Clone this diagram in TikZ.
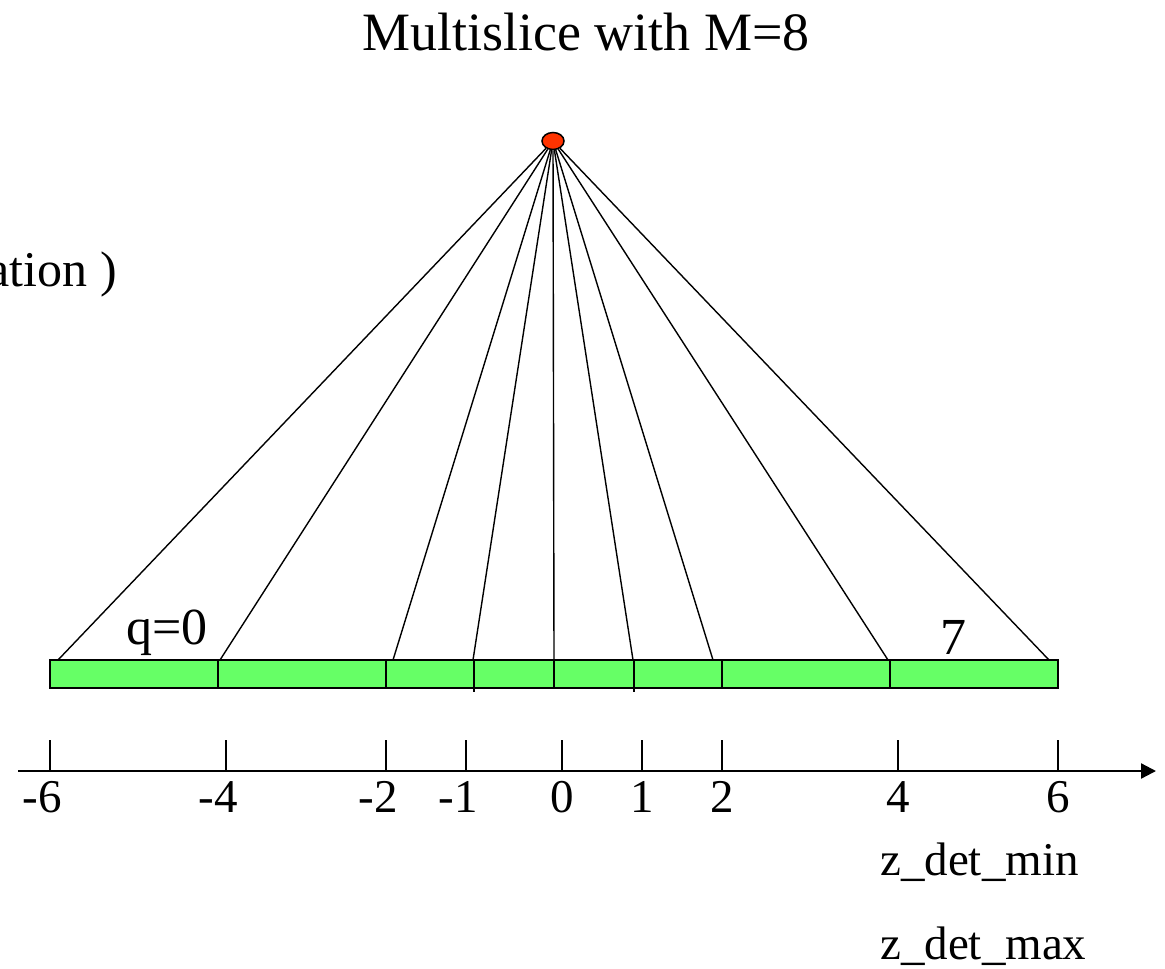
\documentclass[tikz,border=0pt]{standalone}
\usepackage{fontspec}
\setmainfont{Liberation Serif}
\usetikzlibrary{arrows.meta,shapes.geometric}
\definecolor{SliceGreen}{HTML}{66FF66}
\definecolor{SourceRed}{HTML}{FF3300}

\begin{document}
\begin{tikzpicture}[x=1pt,y=-1pt,
  ray/.style={line width=1.4pt},
  slab/.style={fill=SliceGreen,draw=black,line width=2pt},
  tickmark/.style={line width=2pt},
  axis/.style={line width=2.3pt,-{Triangle[length=15pt,width=15pt]}},
  srcdot/.style={ellipse,draw=black,line width=1.5pt,fill=SourceRed,minimum width=22pt,minimum height=17pt,inner sep=0pt},
  lbl/.style={font=\fontsize{47}{56}\selectfont,inner sep=0pt}]
  \useasboundingbox (0,0) rectangle (1165,969);

  \node[lbl,font=\fontsize{54}{64}\selectfont,anchor=base] (title) at (586,50) {Multislice with M=8};
  \node[lbl,font=\fontsize{50}{60}\selectfont,anchor=base east] (note) at (117,286) {ation )};

  % slices of the detector
  \foreach \a/\b in {50/218,218/386,386/474,474/554,554/634,634/722,722/890,890/1058}{
    \filldraw[slab] (\a,660) rectangle (\b,688);
  }
  \draw[ray] (474,688) -- (474,692);
  \draw[ray] (634,688) -- (634,692);

  % source and rays
  \node[srcdot] (src) at (553,141) {};
  \foreach \i/\x in {1/58,2/220,3/393,4/473,5/554,6/633,7/713,8/888,9/1049}{
    \coordinate (r\i) at (\x,660);
    \draw[ray] (src) -- (r\i);
  }
  \node[lbl,font=\fontsize{52}{62}\selectfont,anchor=base] (q0) at (167,644) {q=0};
  \node[lbl,font=\fontsize{52}{62}\selectfont,anchor=base] (q7) at (953,654) {7};

  % z axis
  \coordinate (axL) at (18,771);
  \coordinate (axR) at (1156,771);
  \draw[axis] (axL) -- (axR);
  \foreach \x/\t in {50/\llap{-}6,226/\llap{-}4,386/\llap{-}2,466/\llap{-}1,562/0,642/1,722/2,898/4,1058/6}{
    \draw[tickmark] (\x,740) -- (\x,771);
    \node[lbl,anchor=base] (z\x) at (\x,812) {\t};
  }
  \node[lbl,anchor=base west] (zmin) at (880,875) {z\_det\_min};
  \node[lbl,anchor=base west] (zmax) at (880,959) {z\_det\_max};
\end{tikzpicture}
\end{document}
